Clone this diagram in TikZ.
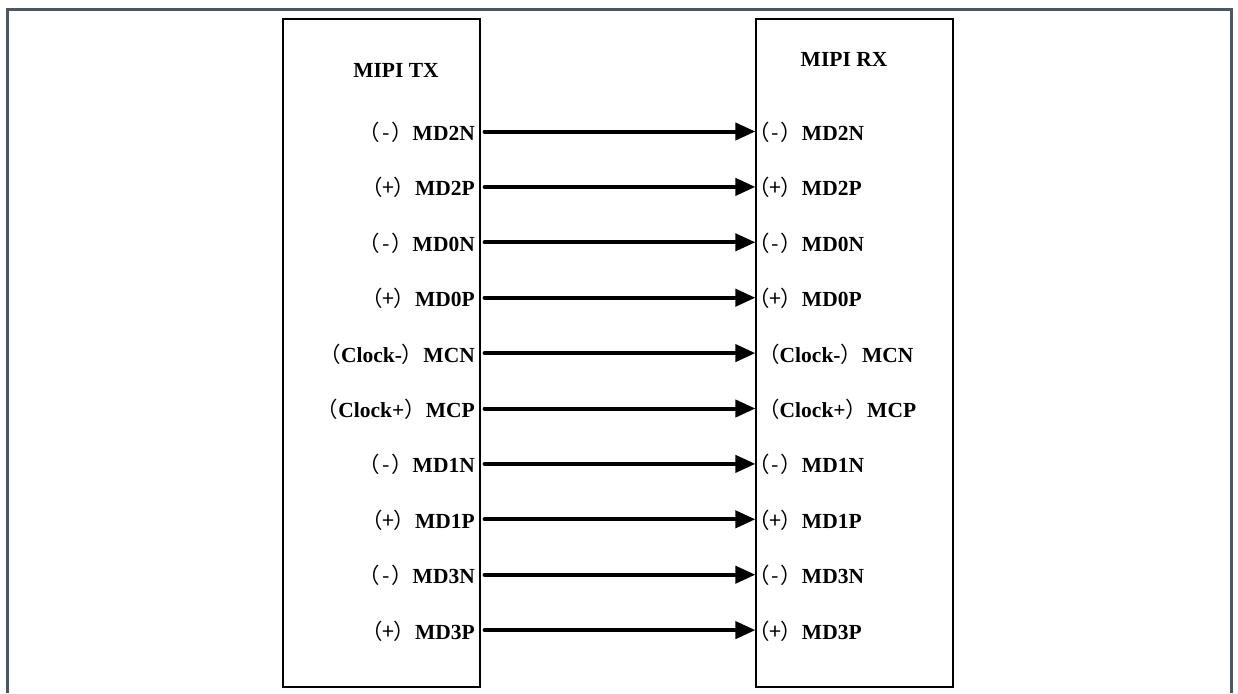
\documentclass[tikz,border=0pt]{standalone}
\usepackage{fontspec}
\setmainfont{Liberation Serif}
\newfontfamily\cjk{Noto Sans CJK SC}
\usepackage{tikz}
\usetikzlibrary{arrows.meta,positioning,calc}
\definecolor{framegray}{RGB}{74,88,99}
\newcommand{\pol}[1]{{\cjk\mdseries （\makebox[0.5em]{#1}）}}
\newcommand{\lpar}{{\cjk\mdseries （}}
\newcommand{\rpar}{{\cjk\mdseries ）}}

\begin{document}
\begin{tikzpicture}[
    x=1pt, y=-1pt,
    node distance=29pt and 273pt,
    chip/.style={rectangle, draw, line width=1.2pt, minimum width=197pt, minimum height=668pt},
    title/.style={font=\bfseries\fontsize{21.5}{24}\selectfont, inner sep=0pt},
    txpin/.style={inner sep=0pt, text width=200pt, align=right, text height=22pt, text depth=4pt, font=\bfseries\fontsize{21.5}{24}\selectfont},
    rxpin/.style={txpin, align=left},
    sig/.style={line width=4pt, line cap=round, shorten <=4pt, -{Triangle[length=20pt, width=17pt]}},
]
    \useasboundingbox (0,0) rectangle (1238,693);
    \draw[framegray, line width=3pt] (7.5,693) |- (1231.5,9.5) -- (1231.5,693);

    % Boxes
    \node[chip] (tx) at (381.5,353) {};
    \node[chip] (rx) at (854.5,353) {};
    \node[title] (txtitle) at (396,70) {MIPI TX};
    \node[title] (rxtitle) at (844,59) {MIPI RX};

    % TX pins
    \node[txpin, anchor=east] (txmd2n) at (475,131.5) {\pol{-}MD2N};
    \node[txpin, below=of txmd2n] (txmd2p) {\pol{+}MD2P};
    \node[txpin, below=of txmd2p] (txmd0n) {\pol{-}MD0N};
    \node[txpin, below=of txmd0n] (txmd0p) {\pol{+}MD0P};
    \node[txpin, below=of txmd0p] (txmcn) {\lpar Clock-\rpar MCN};
    \node[txpin, below=of txmcn] (txmcp) {\lpar Clock+\rpar MCP};
    \node[txpin, below=of txmcp] (txmd1n) {\pol{-}MD1N};
    \node[txpin, below=of txmd1n] (txmd1p) {\pol{+}MD1P};
    \node[txpin, below=of txmd1p] (txmd3n) {\pol{-}MD3N};
    \node[txpin, below=of txmd3n] (txmd3p) {\pol{+}MD3P};

    % RX pins
    \node[rxpin, right=of txmd2n] (rxmd2n) {\pol{-}MD2N};
    \node[rxpin, right=of txmd2p] (rxmd2p) {\pol{+}MD2P};
    \node[rxpin, right=of txmd0n] (rxmd0n) {\pol{-}MD0N};
    \node[rxpin, right=of txmd0p] (rxmd0p) {\pol{+}MD0P};
    \node[rxpin, right=of txmcn] (rxmcn) {\hspace{10pt}\lpar Clock-\rpar MCN};
    \node[rxpin, right=of txmcp] (rxmcp) {\hspace{10pt}\lpar Clock+\rpar MCP};
    \node[rxpin, right=of txmd1n] (rxmd1n) {\pol{-}MD1N};
    \node[rxpin, right=of txmd1p] (rxmd1p) {\pol{+}MD1P};
    \node[rxpin, right=of txmd3n] (rxmd3n) {\pol{-}MD3N};
    \node[rxpin, right=of txmd3p] (rxmd3p) {\pol{+}MD3P};

    \draw[sig] (txmd2n.east -| tx.east) -- (rxmd2n.west -| rx.west);
    \draw[sig] (txmd2p.east -| tx.east) -- (rxmd2p.west -| rx.west);
    \draw[sig] (txmd0n.east -| tx.east) -- (rxmd0n.west -| rx.west);
    \draw[sig] (txmd0p.east -| tx.east) -- (rxmd0p.west -| rx.west);
    \draw[sig] (txmcn.east -| tx.east) -- (rxmcn.west -| rx.west);
    \draw[sig] (txmcp.east -| tx.east) -- (rxmcp.west -| rx.west);
    \draw[sig] (txmd1n.east -| tx.east) -- (rxmd1n.west -| rx.west);
    \draw[sig] (txmd1p.east -| tx.east) -- (rxmd1p.west -| rx.west);
    \draw[sig] (txmd3n.east -| tx.east) -- (rxmd3n.west -| rx.west);
    \draw[sig] (txmd3p.east -| tx.east) -- (rxmd3p.west -| rx.west);

\end{tikzpicture}
\end{document}
